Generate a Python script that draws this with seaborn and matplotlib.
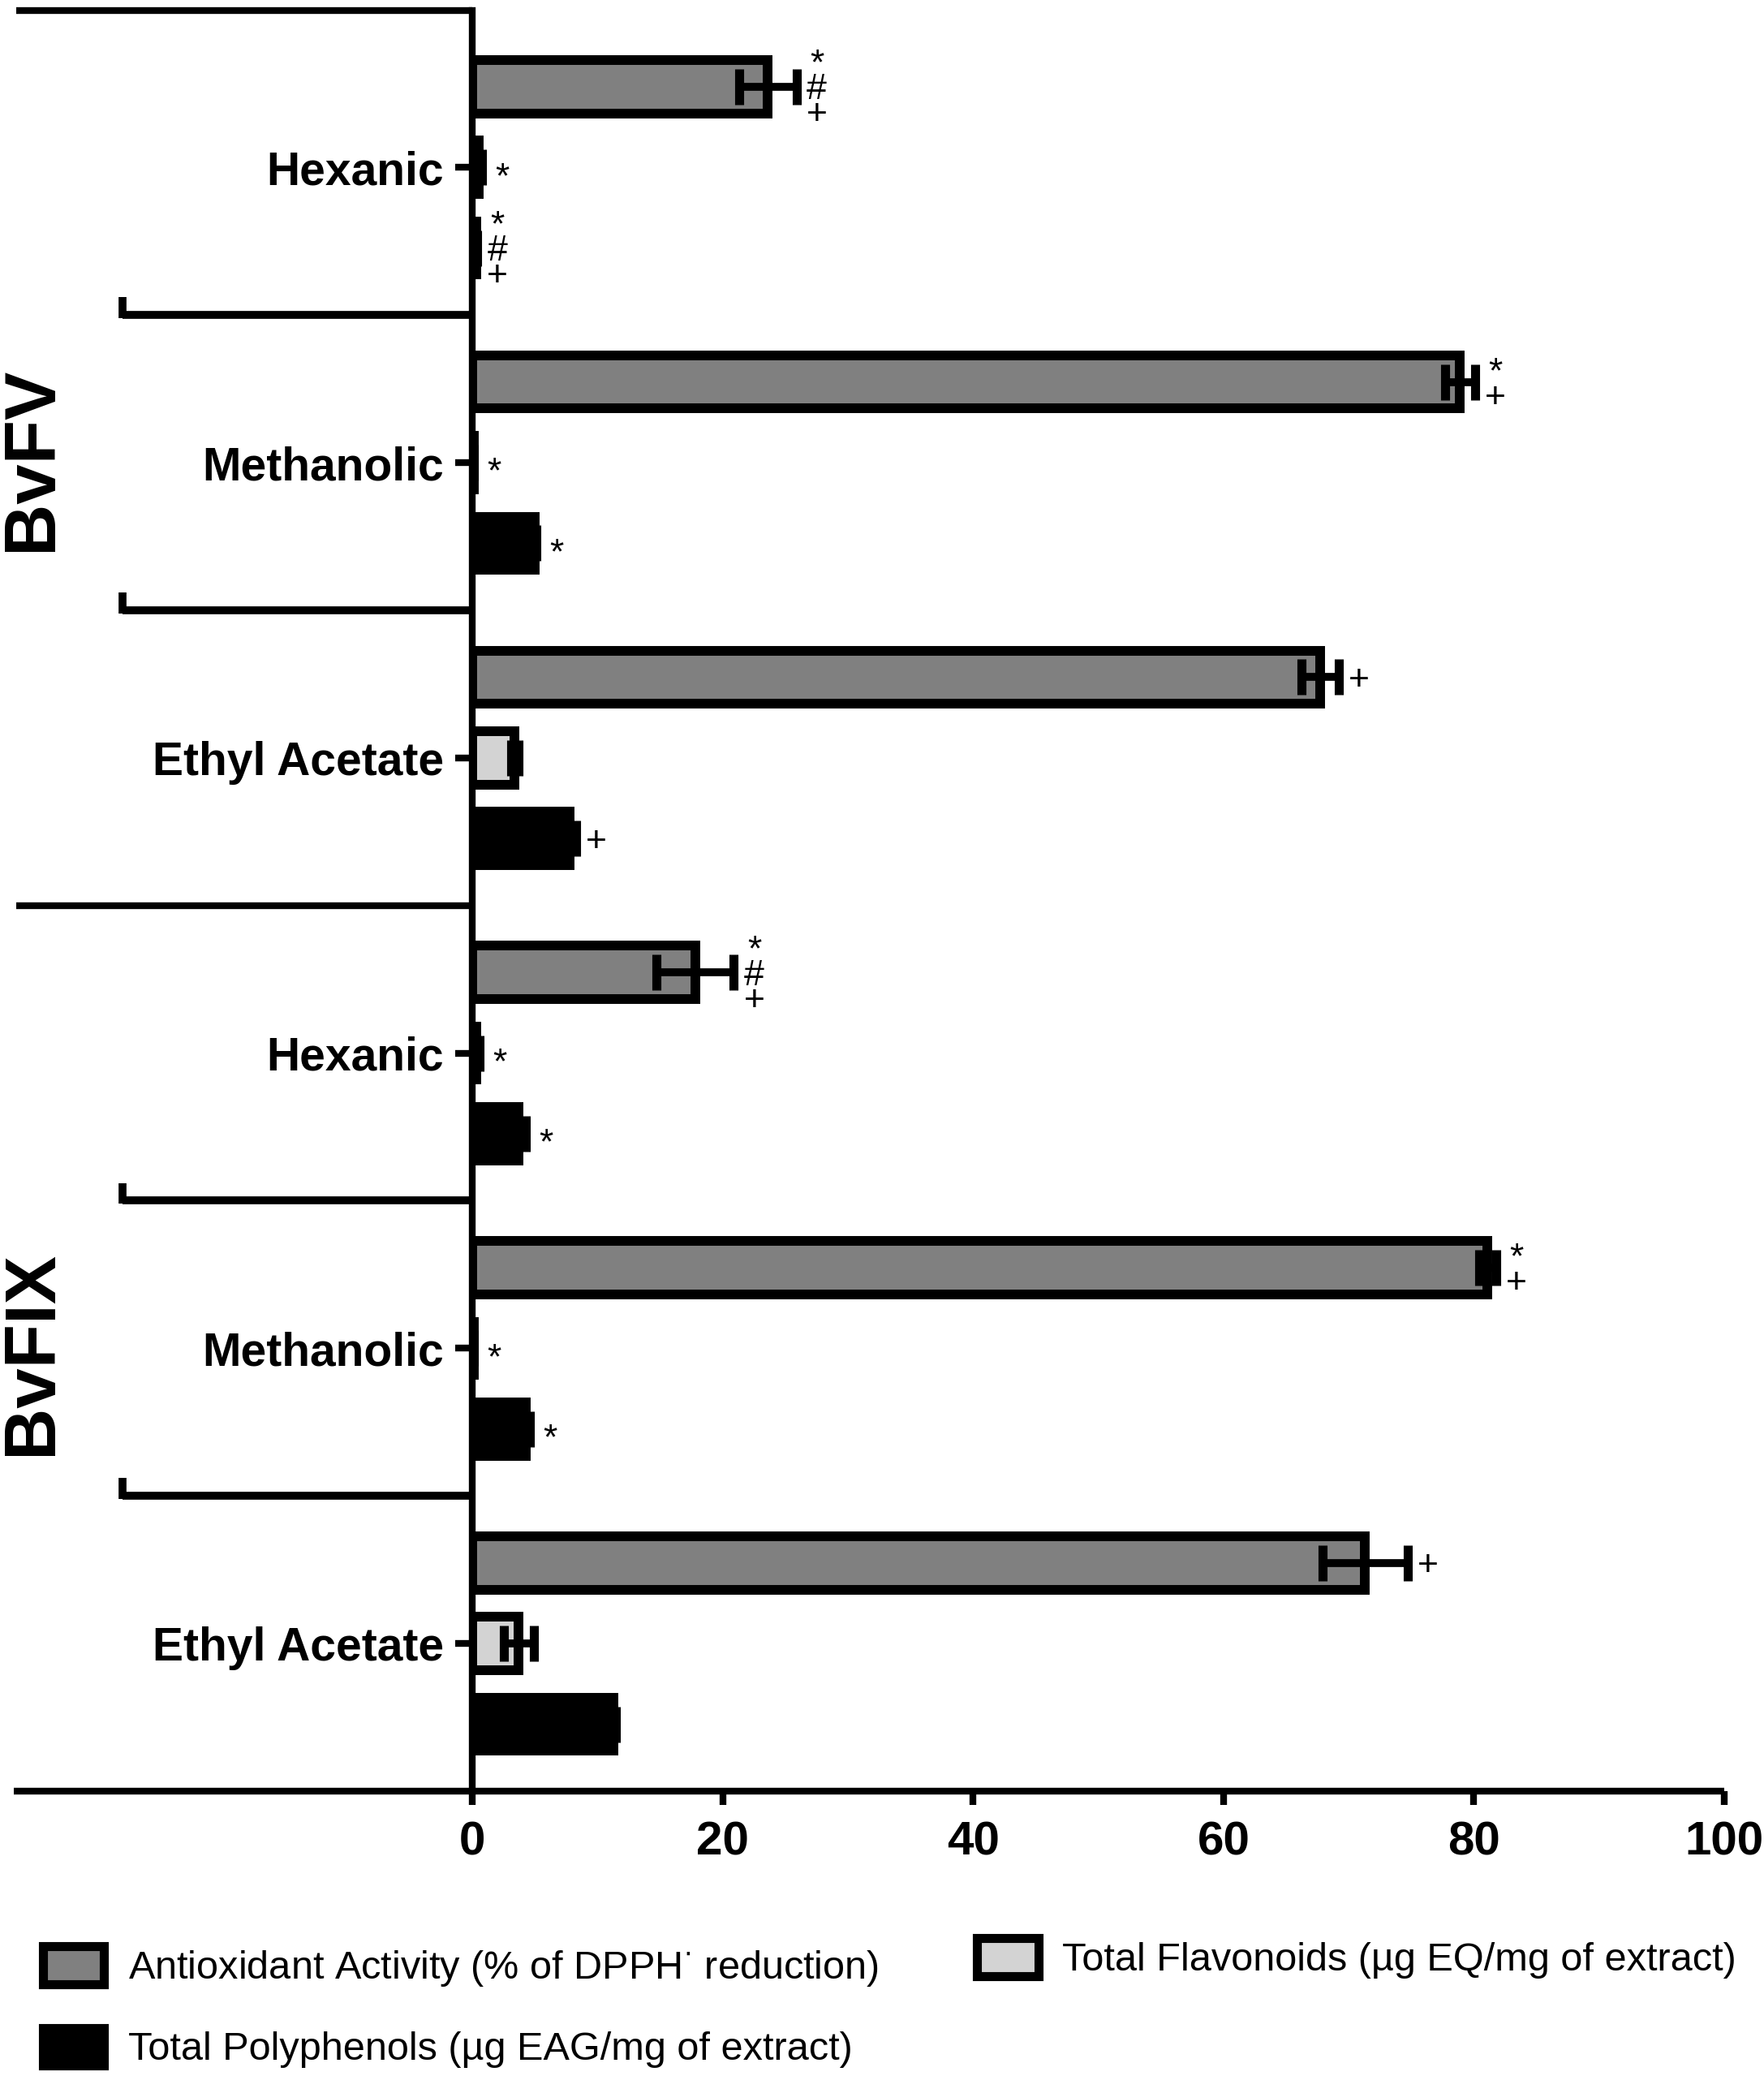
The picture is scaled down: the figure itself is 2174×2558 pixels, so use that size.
import numpy as np
import pandas as pd
import matplotlib
matplotlib.use("Agg")
import matplotlib.pyplot as plt
import matplotlib.transforms as mtransforms
from matplotlib.patches import Patch
import seaborn as sns

# =========================
# DATA
# =========================
extracts = ["BvFV", "BvFV", "BvFV", "BvFIX", "BvFIX", "BvFIX"]
solvents = ["Hexanic", "Methanolic", "Ethyl Acetate", "Hexanic", "Methanolic", "Ethyl Acetate"]

series_names = ["Antioxidant", "Flavonoids", "Polyphenols"]
series_labels = [
    "Antioxidant Activity (% of DPPH$^{\\cdot}$ reduction)",
    "Total Flavonoids (µg EQ/mg of extract)",
    "Total Polyphenols (µg EAG/mg of extract)",
]
series_colors = ["#808080", "#d3d3d3", "#000000"]

antioxidant = [23.6, 78.9, 67.7, 17.8, 81.1, 71.3]
antioxidant_err = [2.3, 1.2, 1.5, 3.1, 0.7, 3.4]
antioxidant_marks = ["*#+", "*+", "+", "*#+", "*+", "+"]

flavonoids = [0.5, 0.1, 3.4, 0.3, 0.1, 3.7]
flavonoids_err = [0.3, 0.05, 0.3, 0.3, 0.05, 1.2]
flavonoids_marks = ["*", "*", "", "*", "*", ""]

polyphenols = [0.3, 5.0, 7.8, 3.7, 4.3, 11.3]
polyphenols_err = [0.1, 0.1, 0.5, 0.6, 0.3, 0.2]
polyphenols_marks = ["*#+", "*", "+", "*", "*", ""]

# =========================
# LONG TABLE
# =========================
samples = [f"{e} {s}" for e, s in zip(extracts, solvents)]
rows = []
for name, vals, errs, marks in [
    ("Antioxidant", antioxidant, antioxidant_err, antioxidant_marks),
    ("Flavonoids", flavonoids, flavonoids_err, flavonoids_marks),
    ("Polyphenols", polyphenols, polyphenols_err, polyphenols_marks),
]:
    for i in range(len(samples)):
        rows.append({"sample": samples[i], "series": name, "value": vals[i],
                     "err": errs[i], "mark": marks[i], "idx": i})
data = pd.DataFrame(rows)

# =========================
# STYLE
# =========================
sns.set_style("ticks")
plt.rcParams["font.family"] = ["Liberation Sans", "DejaVu Sans"]
plt.rcParams["text.color"] = "black"
plt.rcParams["axes.labelcolor"] = "black"
plt.rcParams["xtick.color"] = "black"
plt.rcParams["ytick.color"] = "black"

fig = plt.figure(figsize=(21.74, 25.58), dpi=100)
ax = fig.add_axes([0.2677, 0.1372, 0.7098, 0.8577])

palette = dict(zip(series_names, series_colors))
sns.barplot(
    data=data, x="value", y="sample", hue="series",
    order=samples, hue_order=series_names, palette=palette,
    orient="h", width=0.82, gap=0.34, saturation=1,
    edgecolor="black", linewidth=8.6, errorbar=None,
    legend=False, ax=ax,
)

# =========================
# ERROR BARS + SIGNIFICANCE MARKS
# =========================
# vertical shift (points) of the stacked mark block, by its content
mark_shift = {"*#+": -3, "*+": -3, "*": -9.5, "+": -3}

for container, name in zip(ax.containers, series_names):
    sub = data[data["series"] == name].set_index("idx")
    for bar in container.patches:
        yc = bar.get_y() + bar.get_height() / 2
        i = int(round(yc))
        val = sub.loc[i, "value"]
        err = sub.loc[i, "err"]
        ax.errorbar(val, yc, xerr=err, fmt="none", ecolor="black",
                    elinewidth=7, capsize=15.5, capthick=8, zorder=4)
        mark = sub.loc[i, "mark"]
        if mark:
            ax.annotate("\n".join(mark), xy=(val + err, yc),
                        xytext=(18, mark_shift[mark]), textcoords="offset points",
                        ha="center", va="center", fontsize=32, linespacing=0.68,
                        multialignment="center", annotation_clip=False)

# =========================
# AXES
# =========================
ax.set_xlim(0, 100)
ax.set_ylim(5.5, -0.531)
ax.set_xticks(range(0, 101, 20))
ax.set_yticks(range(len(solvents)))
ax.set_yticklabels(solvents, fontsize=41, fontweight="bold")
for lbl in ax.get_xticklabels():
    lbl.set_fontweight("bold")
ax.tick_params(axis="x", length=12, width=6, pad=14, labelsize=42, color="black")
ax.tick_params(axis="y", length=15, width=6, pad=10, color="black")
ax.set_xlabel("")
ax.set_ylabel("")

for side in ["top", "right", "bottom"]:
    ax.spines[side].set_visible(False)
ax.spines["left"].set_linewidth(6)
ax.spines["left"].set_color("black")

trans = mtransforms.blended_transform_factory(ax.transAxes, ax.transData)
line_kw = dict(transform=trans, clip_on=False, color="black", solid_capstyle="butt")

# bottom axis line and top line
ax.plot([-0.366, 1.0], [5.5, 5.5], lw=6, **line_kw)
ax.plot([-0.364, 0.0], [-0.531, -0.531], lw=6, **line_kw)
# group separator
ax.plot([-0.364, 0.0], [2.5, 2.5], lw=6, **line_kw)
# solvent separators
for y in [0.5, 1.5, 3.5, 4.5]:
    ax.plot([-0.279, 0.0], [y, y], lw=7, **line_kw)
    ax.plot([-0.279, -0.279], [y + 0.01, y - 0.06], lw=7, **line_kw)

# group labels
for label, yc in [("BvFV", 0.986), ("BvFIX", 4.015)]:
    ax.text(-0.351, yc, label, transform=trans, rotation=90, ha="center",
            va="center", fontsize=64, fontweight="bold")

# =========================
# LEGEND
# =========================
handles = [Patch(facecolor=c, edgecolor="black", linewidth=8) for c in series_colors]
leg_kw = dict(loc="upper left", frameon=False, fontsize=35, handlelength=1.55,
              handleheight=1.1, handletextpad=0.6, borderpad=0, borderaxespad=0)
fig.legend([handles[0], handles[2]], [series_labels[0], series_labels[2]],
           bbox_to_anchor=(0.0244, 0.0625), labelspacing=1.0, **leg_kw)
fig.legend([handles[1]], [series_labels[1]],
           bbox_to_anchor=(0.554, 0.0665), **leg_kw)

fig.savefig("out.png", dpi=100)
plt.close(fig)
